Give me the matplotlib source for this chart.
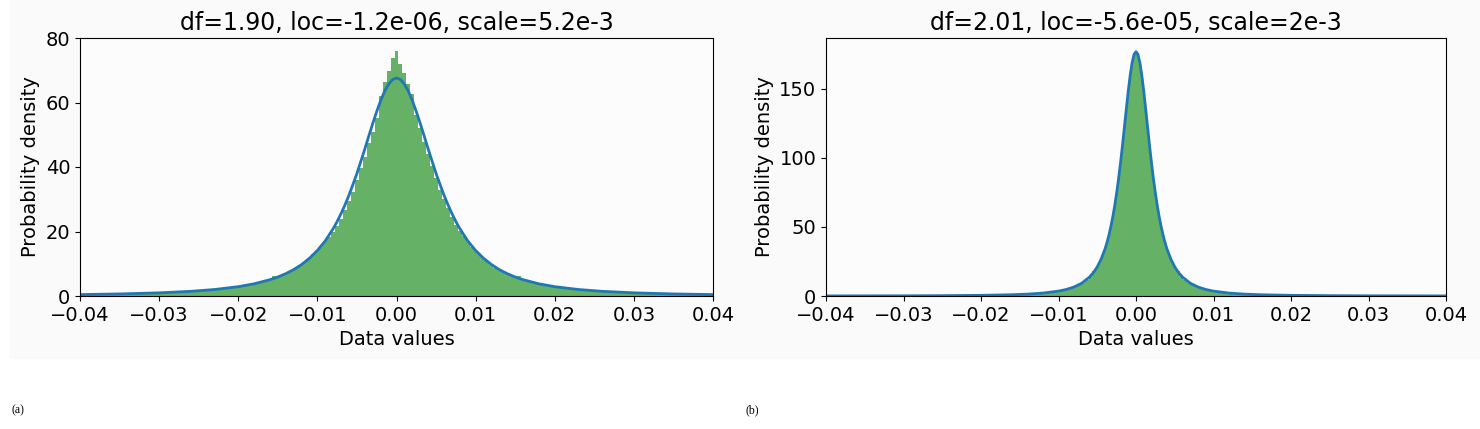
import numpy as np
import matplotlib
matplotlib.use("Agg")
import matplotlib.pyplot as plt
from matplotlib.patches import Rectangle

# ---- panel (a): t fit, df=1.90 ----
titles = ["df=1.90, loc=-1.2e-06, scale=5.2e-3", "df=2.01, loc=-5.6e-05, scale=2e-3"]
panel_tags = ["(a)", "(b)"]

# histogram bin edges (a): wide tail bins, fine centre bins
edges_a = np.concatenate([np.linspace(-0.04025, -0.02025, 11),
                          np.linspace(-0.02025, 0.02025, 82)[1:],
                          np.linspace(0.02025, 0.04025, 11)[1:]])
hist_a = [0.46, 0.54, 0.63, 0.74, 0.88, 1.06, 1.28, 1.57, 1.96, 2.48,
          2.8, 3.0, 3.2, 3.5, 3.7, 4.0, 4.3, 4.6, 5.0, 6.1,
          5.9, 6.5, 7.0, 7.7, 8.3, 9.1, 9.9, 10.9, 11.9, 13.0,
          14.2, 15.6, 16.9, 18.4, 20.0, 21.8, 24.0, 26.8, 29.5, 32.4,
          36.0, 39.6, 43.2, 47.3, 51.0, 55.3, 62.0, 66.5, 69.8, 73.8,
          76.0,
          72.0, 69.3, 65.6, 62.5, 56.0, 52.0, 47.8, 44.0, 40.2, 36.6,
          33.0, 30.2, 27.2, 24.6, 22.0, 20.2, 18.6, 17.0, 15.3, 14.0,
          12.8, 11.6, 10.6, 9.6, 8.8, 8.1, 7.4, 6.9, 6.3, 5.8,
          6.1, 4.9, 4.6, 4.3, 4.0, 3.7, 3.4, 3.2, 3.0, 2.8,
          2.48, 1.96, 1.57, 1.28, 1.06, 0.88, 0.74, 0.63, 0.54, 0.46]

fit_x_a = [-0.040, -0.035, -0.030, -0.026, -0.023, -0.020, -0.018, -0.016, -0.015, -0.014,
           -0.013, -0.012, -0.011, -0.010, -0.009, -0.008, -0.0075, -0.007, -0.0065, -0.006,
           -0.0055, -0.005, -0.0045, -0.004, -0.0035, -0.003, -0.0025, -0.002, -0.0015, -0.001,
           -0.0005, 0.0,
           0.0005, 0.001, 0.0015, 0.002, 0.0025, 0.003, 0.0035, 0.004, 0.0045, 0.005,
           0.0055, 0.006, 0.0065, 0.007, 0.0075, 0.008, 0.009, 0.010, 0.011, 0.012,
           0.013, 0.014, 0.015, 0.016, 0.018, 0.020, 0.023, 0.026, 0.030, 0.035, 0.040]
fit_y_a = [0.44, 0.64, 0.98, 1.45, 2.01, 2.89, 3.78, 5.05, 5.89, 6.92,
           8.18, 9.75, 11.7, 14.1, 17.1, 20.9, 23.1, 25.6, 28.3, 31.3,
           34.6, 38.0, 41.8, 45.6, 49.6, 53.5, 57.2, 60.6, 63.5, 65.7,
           67.1, 67.6,
           67.1, 65.7, 63.5, 60.6, 57.2, 53.5, 49.6, 45.6, 41.8, 38.0,
           34.6, 31.3, 28.3, 25.6, 23.1, 20.9, 17.1, 14.1, 11.7, 9.75,
           8.18, 6.92, 5.89, 5.05, 3.78, 2.89, 2.01, 1.45, 0.98, 0.64, 0.44]

# ---- panel (b): t fit, df=2.01 ----
edges_b = np.concatenate([np.linspace(-0.040125, -0.015125, 11),
                          np.linspace(-0.015125, -0.005125, 21)[1:],
                          np.linspace(-0.005125, 0.005125, 42)[1:],
                          np.linspace(0.005125, 0.015125, 21)[1:],
                          np.linspace(0.015125, 0.040125, 11)[1:]])
hist_b = [0.07, 0.08, 0.10, 0.13, 0.16, 0.21, 0.28, 0.39, 0.57, 0.86,
          1.14, 1.26, 1.40, 1.55, 1.73, 1.94, 2.18, 2.47, 2.80, 3.20,
          3.67, 4.24, 4.93, 5.77, 6.80, 8.09, 9.71, 11.77, 14.40, 17.83,
          21.1, 23.7, 26.6, 30.0, 34.0, 38.6, 43.9, 50.1, 57.1, 65.2,
          74.4, 84.8, 96.3, 108.8, 122.0, 135.4, 148.2, 159.7, 168.7, 174.5,
          176.2,
          174.5, 168.7, 159.7, 148.2, 135.4, 122.0, 108.8, 96.3, 84.8, 74.4,
          65.2, 57.1, 50.1, 43.9, 38.6, 34.0, 30.0, 26.6, 23.7, 21.1,
          17.83, 14.40, 11.77, 9.71, 8.09, 6.80, 5.77, 4.93, 4.24, 3.67,
          3.20, 2.80, 2.47, 2.18, 1.94, 1.73, 1.55, 1.40, 1.26, 1.14,
          0.86, 0.57, 0.39, 0.28, 0.21, 0.16, 0.13, 0.10, 0.08, 0.07]

fit_x_b = [-0.040, -0.030, -0.025, -0.020, -0.016, -0.014, -0.012, -0.010, -0.009, -0.008,
           -0.007, -0.006, -0.0055, -0.005, -0.0045, -0.004, -0.00375, -0.0035, -0.00325, -0.003,
           -0.00275, -0.0025, -0.00225, -0.002, -0.00175, -0.0015, -0.00125, -0.001, -0.00075, -0.0005,
           -0.00025, 0.0,
           0.00025, 0.0005, 0.00075, 0.001, 0.00125, 0.0015, 0.00175, 0.002, 0.00225, 0.0025,
           0.00275, 0.003, 0.00325, 0.0035, 0.00375, 0.004, 0.0045, 0.005, 0.0055, 0.006,
           0.007, 0.008, 0.009, 0.010, 0.012, 0.014, 0.016, 0.020, 0.025, 0.030, 0.040]
fit_y_b = [0.06, 0.14, 0.25, 0.48, 0.92, 1.36, 2.12, 3.54, 4.74, 6.52,
           9.27, 13.7, 16.9, 21.1, 26.7, 34.0, 38.6, 43.9, 50.1, 57.1,
           65.2, 74.5, 84.8, 96.3, 108.8, 122.0, 135.4, 148.3, 159.8, 168.9,
           174.9, 176.9,
           174.9, 168.9, 159.8, 148.3, 135.4, 122.0, 108.8, 96.3, 84.8, 74.5,
           65.2, 57.1, 50.1, 43.9, 38.6, 34.0, 26.7, 21.1, 16.9, 13.7,
           9.27, 6.52, 4.74, 3.54, 2.12, 1.36, 0.92, 0.48, 0.25, 0.14, 0.06]

W, H = 1480, 429
fig = plt.figure(figsize=(W / 100, H / 100), dpi=100)
fig.patch.set_facecolor("white")
# light grey backdrop of the two embedded figures
fig.add_artist(Rectangle((10 / W, 1 - 358 / H), 1 - 10 / W, 358 / H,
                         transform=fig.transFigure, color="#fafafa", zorder=0))

ax_a = fig.add_axes([80 / W, 1 - 296 / H, 633 / W, 258 / H])
ax_b = fig.add_axes([826 / W, 1 - 296 / H, 620 / W, 258 / H])

panels = [(ax_a, edges_a, hist_a, fit_x_a, fit_y_a, 80),
          (ax_b, edges_b, hist_b, fit_x_b, fit_y_b, 186.8)]

for i, (ax, edges, hist, fx, fy, ytop) in enumerate(panels):
    ax.set_facecolor("#fcfcfc")
    ax.bar(edges[:-1], hist, width=np.diff(edges), align="edge",
           color="g", alpha=0.6, linewidth=0)
    ax.plot(fx, fy, color="#1f77b4", lw=2)
    ax.set_xlim(-0.04, 0.04)
    ax.set_ylim(0, ytop)
    ax.set_xticks([-0.04, -0.03, -0.02, -0.01, 0.0, 0.01, 0.02, 0.03, 0.04])
    ax.tick_params(labelsize=14)
    ax.set_xlabel("Data values", fontsize=14)
    ax.set_ylabel("Probability density", fontsize=14)
    ax.set_title(titles[i], fontsize=17)

ax_b.set_yticks([0, 50, 100, 150])

fig.text(12 / W, 1 - 410 / H, panel_tags[0], fontsize=8.5, family="Liberation Serif", va="center")
fig.text(745 / W, 1 - 410 / H, panel_tags[1], fontsize=8.5, family="Liberation Serif", va="center")

fig.savefig("out.png", dpi=100)
